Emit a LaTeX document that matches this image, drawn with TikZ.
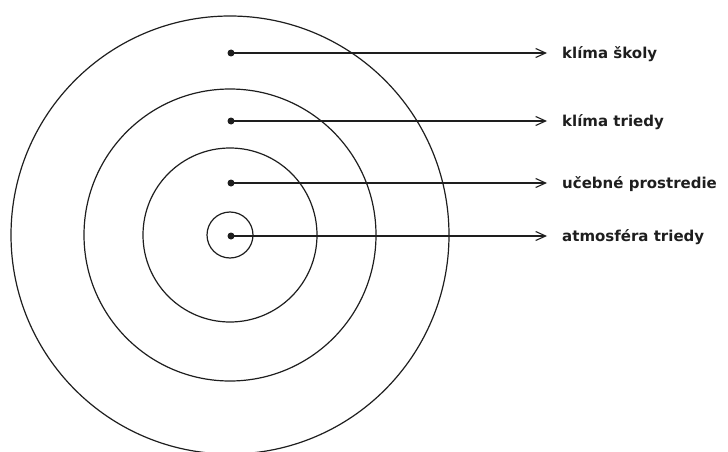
\documentclass[tikz,border=0pt]{standalone}
\usepackage{fontspec}
\setmainfont{DejaVu Sans}
\usetikzlibrary{positioning,arrows.meta}
\definecolor{tinta}{HTML}{1E1E1E}

\tikzset{
  bod/.style={circle, fill=tinta, inner sep=0pt, minimum size=7pt},
  popis/.style={anchor=mid west, inner sep=0pt, text=tinta, font=\bfseries\fontsize{15pt}{17pt}\selectfont},
  sipka/.style={-{Straight Barb[length=10pt,width=9pt]}, draw=tinta, line width=1.1pt, shorten >=15pt}
}

\begin{document}
\begin{tikzpicture}[x=1pt, y=-1pt]
        \useasboundingbox (0,0) rectangle (728,452);
        \coordinate (stred) at (230,235);
        % kruhy
        \draw[draw=tinta, line width=1.2pt] (stred) circle[radius=219];
        \draw[draw=tinta, line width=1.2pt] (stred) circle[radius=146];
        \draw[draw=tinta, line width=1.2pt] (stred) circle[radius=87];
        \draw[draw=tinta, line width=1.2pt] (stred) circle[radius=23];
        % body a popisy
        \node[bod] (skola) at (231,53) {};
        \node[bod] (trieda) at (231,121) {};
        \node[bod] (prostredie) at (231,183) {};
        \node[bod] (atmosfera) at (231,236) {};
        \node[popis] (pskola) at (562,56) {klíma školy};
        \node[popis] (ptrieda) at (562,124) {klíma triedy};
        \node[popis] (pprostredie) at (562,186) {učebné prostredie};
        \node[popis] (patmosfera) at (562,239) {atmosféra triedy};
        \draw[sipka] (skola.center) -- (skola.center -| pskola.west);
        \draw[sipka] (trieda.center) -- (trieda.center -| ptrieda.west);
        \draw[sipka] (prostredie.center) -- (prostredie.center -| pprostredie.west);
        \draw[sipka] (atmosfera.center) -- (atmosfera.center -| patmosfera.west);
      \end{tikzpicture}
\end{document}
